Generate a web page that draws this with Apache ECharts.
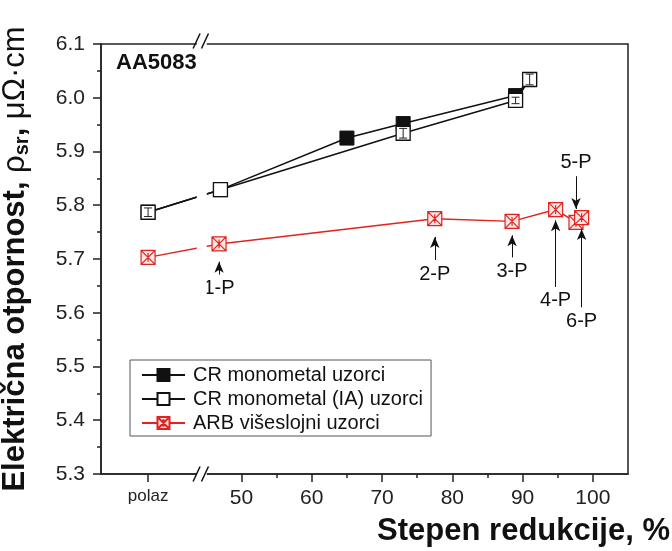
<!DOCTYPE html>
<html>
<head>
<meta charset="utf-8">
<title>AA5083</title>
<script src="https://cdn.jsdelivr.net/npm/echarts@6.0.0/dist/echarts.min.js"></script>
<style>
  html, body { margin: 0; padding: 0; background: #fff; }
  #chart { width: 672px; height: 551px; }
</style>
</head>
<body>
<div id="chart"></div>
<script>
// reduction, % ('polaz' = starting state, drawn left of the axis break)
const crX = ['polaz', 47, 65, 73, 89, 91];
const crY = [5.787, 5.829, 5.925, 5.952, 6.004, 6.034];

const iaX = ['polaz', 47, 73, 89, 91];
const iaY = [5.787, 5.829, 5.934, 5.995, 6.034];
const iaErr = [0.008, 0, 0.009, 0.006, 0.01];

const arbX = ['polaz', 46.8, 77.5, 88.5, 94.7, 97.6, 98.4];
const arbY = [5.703, 5.728, 5.775, 5.770, 5.792, 5.768, 5.777];

// ARB passes: arrow goes from tail to tip at the x of the pass
const passNames = ['1-P', '2-P', '3-P', '4-P', '5-P', '6-P'];
const arrowTail = [5.671, 5.698, 5.703, 5.648, 5.854, 5.610];
const arrowTip = [5.695, 5.741, 5.744, 5.772, 5.793, 5.756];

const xTicks = ['polaz', 50, 60, 70, 80, 90, 100];
const xMinorTicks = [55, 65, 75, 85, 95];

// where 'polaz' and the break sit on the x scale
const POLAZ_X = 36.7;
const BREAK_X = 44.2;

const FONT = '"Liberation Sans", Arial, sans-serif';
const RED = '#e0231e';

const toX = v => (v === 'polaz' ? POLAZ_X : v);
const pairs = (xs, ys) => xs.map((x, i) => [toX(x), ys[i]]);

const chart = echarts.init(document.getElementById('chart'));

// small error bars inside the open squares
function renderErr(params, api) {
  const x = api.value(0);
  const y = api.value(1);
  const e = api.value(2);
  if (!e) return;
  const hi = api.coord([x, y + e]);
  const lo = api.coord([x, y - e]);
  const st = { stroke: '#222', lineWidth: 1 };
  return {
    type: 'group',
    children: [
      { type: 'line', shape: { x1: hi[0], y1: hi[1], x2: lo[0], y2: lo[1] }, style: st },
      { type: 'line', shape: { x1: hi[0] - 4, y1: hi[1], x2: hi[0] + 4, y2: hi[1] }, style: st },
      { type: 'line', shape: { x1: lo[0] - 4, y1: lo[1], x2: lo[0] + 4, y2: lo[1] }, style: st }
    ]
  };
}

const option = {
  animation: false,
  backgroundColor: '#fff',
  textStyle: { fontFamily: FONT },
  grid: {
    left: 101, right: 44, top: 44, bottom: 77,
    outerBoundsMode: 'none',
    containLabel: false,
    show: true, borderColor: '#222', borderWidth: 1.5
  },
  title: {
    text: 'Stepen redukcije, %',
    right: 2, top: 516, padding: 0,
    textStyle: { fontSize: 31, fontWeight: 'bold', fontFamily: FONT, color: '#111' }
  },
  legend: {
    orient: 'vertical',
    left: 130, top: 360,
    padding: [5, 8, 3, 11],
    itemGap: 4,
    itemWidth: 43,
    itemHeight: 15,
    borderColor: '#555',
    borderWidth: 1,
    textStyle: { fontSize: 20, fontFamily: FONT, color: '#111', padding: [0, 0, 0, 3] },
    data: ['CR monometal uzorci', 'CR monometal (IA) uzorci', 'ARB višeslojni uzorci']
  },
  xAxis: [
    {
      type: 'value',
      min: 30, max: 105,
      splitLine: { show: false },
      axisLine: { lineStyle: { color: '#222', width: 1.5 } },
      axisTick: {
        customValues: xTicks.map(toX),
        length: 8,
        lineStyle: { color: '#222', width: 1.5 }
      },
      axisLabel: {
        customValues: xTicks.map(toX),
        margin: 14,
        fontSize: 21,
        color: '#222',
        fontFamily: FONT,
        formatter: v => (v === POLAZ_X ? '{p|polaz}' : String(v)),
        rich: { p: { fontSize: 17, fontFamily: FONT, color: '#222' } }
      }
    },
    {
      // minor ticks
      type: 'value',
      min: 30, max: 105,
      position: 'bottom',
      splitLine: { show: false },
      axisLine: { show: false },
      axisLabel: { show: false },
      axisTick: {
        customValues: xMinorTicks,
        length: 4,
        lineStyle: { color: '#222', width: 1.5 }
      }
    }
  ],
  yAxis: {
    type: 'value',
    min: 5.3, max: 6.1, interval: 0.1,
    splitLine: { show: false },
    axisLine: { show: true, lineStyle: { color: '#222', width: 1.5 } },
    axisTick: { length: 8, lineStyle: { color: '#222', width: 1.5 } },
    minorTick: { show: true, splitNumber: 2, length: 4, lineStyle: { color: '#222', width: 1.5 } },
    axisLabel: {
      margin: 16,
      fontSize: 21,
      color: '#222',
      fontFamily: FONT,
      formatter: v => v.toFixed(1)
    },
    name: '{b|Električna otpornost, }{g|ρ}{s|sr}{b|, }{g|μΩ·cm}',
    nameLocation: 'middle',
    nameRotate: 90,
    nameGap: 69,
    nameTextStyle: {
      rich: {
        b: { fontSize: 31, fontWeight: 'bold', fontFamily: FONT, color: '#111', lineHeight: 34 },
        g: { fontSize: 31, fontFamily: FONT, color: '#111', lineHeight: 34 },
        s: { fontSize: 20, fontWeight: 'bold', fontFamily: FONT, color: '#111', lineHeight: 34, verticalAlign: 'bottom' }
      }
    }
  },
  series: [
    {
      name: 'CR monometal uzorci',
      type: 'line',
      data: pairs(crX, crY),
      symbol: 'rect',
      symbolSize: 14,
      lineStyle: { color: '#111', width: 1.5 },
      itemStyle: { color: '#111', borderColor: '#111', borderWidth: 1 }
    },
    {
      name: 'CR monometal (IA) uzorci',
      type: 'line',
      data: pairs(iaX, iaY),
      symbol: 'rect',
      symbolSize: 14,
      lineStyle: { color: '#111', width: 1.5 },
      itemStyle: { color: '#fff', borderColor: '#111', borderWidth: 1.3 }
    },
    {
      type: 'custom',
      renderItem: renderErr,
      data: iaX.map((x, i) => [toX(x), iaY[i], iaErr[i]]),
      z: 5,
      silent: true
    },
    {
      name: 'ARB višeslojni uzorci',
      type: 'line',
      data: pairs(arbX, arbY),
      symbol: 'path://M0,0L16,0L16,16L0,16Z M0,0L16,16 M16,0L0,16 M8,3L8,13',
      symbolSize: 14,
      lineStyle: { color: RED, width: 1.5 },
      itemStyle: { color: '#fbe6e6', borderColor: RED, borderWidth: 1.2 },
      markLine: {
        silent: true,
        symbol: ['none', 'arrow'],
        symbolSize: [7, 11],
        lineStyle: { color: '#111', width: 1, type: 'solid' },
        label: {
          position: 'start',
          formatter: '{b}',
          color: '#111',
          fontSize: 20,
          fontFamily: FONT,
          distance: 4
        },
        data: passNames.map((name, i) => [
          { name: name, coord: [toX(arbX[i + 1]), arrowTail[i]] },
          { coord: [toX(arbX[i + 1]), arrowTip[i]] }
        ])
      }
    }
  ]
};

chart.setOption(option);

// axis break marks "//" plus the gap they cut through the lines
const bx = chart.convertToPixel({ xAxisIndex: 0 }, BREAK_X);
const yTop = chart.convertToPixel({ yAxisIndex: 0 }, 6.1);
const yBot = chart.convertToPixel({ yAxisIndex: 0 }, 5.3);
const slash = (x, y) => ({
  type: 'line', z: 60,
  shape: { x1: x - 3.5, y1: y + 7.5, x2: x + 3.5, y2: y - 7.5 },
  style: { stroke: '#111', lineWidth: 1.5 }
});
const gap = (y, h) => ({
  type: 'rect', z: 55,
  shape: { x: bx - 4, y: y, width: 10, height: h },
  style: { fill: '#fff' }
});

chart.setOption({
  graphic: [
    gap(yTop + 2, 300),
    gap(yTop - 3, 6),
    gap(yBot - 3, 6),
    slash(bx - 4.2, yTop - 3),
    slash(bx + 4.2, yTop - 3),
    slash(bx - 4.2, yBot),
    slash(bx + 4.2, yBot),
    {
      type: 'text', z: 70,
      left: 116, top: 52,
      style: { text: 'AA5083', font: 'bold 22px ' + FONT, fill: '#111' }
    }
  ]
});
</script>
</body>
</html>
